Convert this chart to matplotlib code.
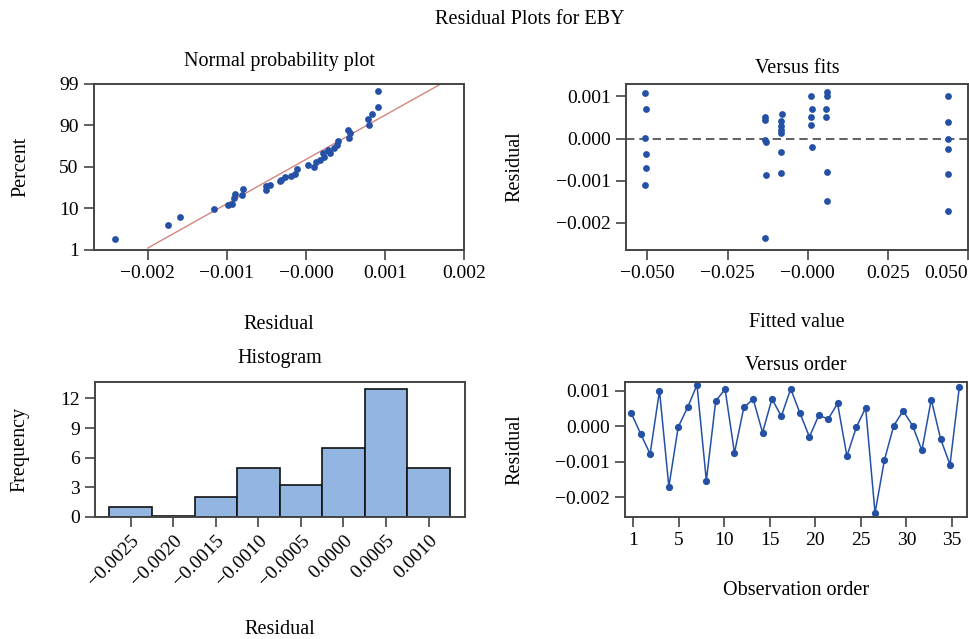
import numpy as np
import matplotlib
matplotlib.use("Agg")
import matplotlib.pyplot as plt

plt.rcParams["font.family"] = ["Liberation Serif", "DejaVu Serif"]
plt.rcParams["font.size"] = 14.5
plt.rcParams["axes.titlesize"] = 14.5

BLUE = "#2451a6"
SPINE = "#444444"

# normal probability plot: residual vs percent
npp_resid = [-0.00242, -0.00175, -0.00159, -0.00116, -0.00098, -0.00093, -0.00091,
             -0.00090, -0.00081, -0.00079, -0.00051, -0.00050, -0.00045, -0.00033,
             -0.00032, -0.00027, -0.00019, -0.00014, -0.00011, 0.00002, 0.00010,
             0.00013, 0.00018, 0.00021, 0.00023, 0.00028, 0.00031, 0.00035, 0.00039,
             0.00041, 0.00053, 0.00054, 0.00056, 0.00079, 0.00080, 0.00083, 0.00091,
             0.00091]
npp_pct = [3.4, 6.4, 8.1, 9.8, 12.8, 14.4, 19.6, 23.6, 23.2, 28.4, 28.0, 31.2, 32.8,
           36.0, 37.6, 40.0, 41.2, 43.2, 47.6, 52.0, 49.6, 54.8, 56.8, 63.2, 59.2,
           66.4, 63.2, 68.0, 71.2, 74.4, 85.2, 77.6, 82.4, 91.4, 90.1, 92.5, 94.0,
           97.4]
fit_line_x = [-0.00200, 0.00171]
fit_line_pct = [1.4, 99.0]
pct_ticks = [1, 10, 50, 90, 99]
npp_xticks = [-0.002, -0.001, 0.0, 0.001, 0.002]
npp_xlabels = ["\u22120.002", "\u22120.001", "\u22120.000", "0.001", "0.002"]

# versus fits
fitted = [-0.0507, -0.0503, -0.0507, -0.0505, -0.0505, -0.0507,
          -0.0133, -0.0132, -0.0133, -0.0131, -0.0131, -0.0134,
          -0.0080, -0.0082, -0.0084, -0.0084, -0.0083, -0.0082, -0.0084,
          0.0010, 0.0013, 0.0010, 0.0010, 0.0013,
          0.0059, 0.0059, 0.0058, 0.0056, 0.0061, 0.0059,
          0.0436, 0.0438, 0.0436, 0.0436, 0.0436, 0.0438]
fit_resid = [0.00108, 0.00070, 0.00002, -0.00036, -0.00071, -0.00111,
             0.00051, 0.00043, -0.00003, -0.00009, -0.00086, -0.00237,
             0.00059, 0.00042, 0.00030, 0.00021, 0.00014, -0.00033, -0.00081,
             0.00102, 0.00070, 0.00051, 0.00031, -0.00021,
             0.00110, 0.00102, 0.00069, 0.00050, -0.00080, -0.00147,
             0.00100, 0.00039, 0.00000, -0.00024, -0.00083, -0.00171]
fit_xticks = [-0.050, -0.025, 0.0, 0.025, 0.050]
fit_xlabels = ["\u22120.050", "\u22120.025", "\u22120.000", "0.025", "0.050"]
resid_yticks = [0.001, 0.0, -0.001, -0.002]
resid_ylabels = ["0.001", "0.000", "\u22120.001", "\u22120.002"]

# histogram
bin_centers = [-0.0025, -0.0020, -0.0015, -0.0010, -0.0005, 0.0000, 0.0005, 0.0010]
bin_counts = [1.0, 0.1, 2.0, 5.0, 3.2, 7.0, 13.0, 5.0]
hist_xlabels = ["\u22120.0025", "\u22120.0020", "\u22120.0015", "\u22120.0010",
                "\u22120.0005", "0.0000", "0.0005", "0.0010"]
freq_ticks = [0, 3, 6, 9, 12]

# versus order
order_resid = [0.00036, -0.00022, -0.00078, 0.00100, -0.00170, -0.00002, 0.00053,
               0.00116, -0.00153, 0.00071, 0.00104, -0.00075, 0.00053, 0.00076,
               -0.00018, 0.00077, 0.00028, 0.00105, 0.00036, -0.00030, 0.00031,
               0.00020, 0.00064, -0.00084, -0.00003, 0.00052, -0.00244, -0.00095,
               0.00002, 0.00043, 0.00002, -0.00068, 0.00075, -0.00036, -0.00108,
               0.00111]
order_ticklabels = ["1", "5", "10", "15", "20", "25", "30", "35"]


def style(ax):
    for s in ax.spines.values():
        s.set_color(SPINE)
        s.set_linewidth(1.4)
    ax.tick_params(direction="out", length=7, width=1.2, color=SPINE,
                   labelsize=14, pad=4)


fig = plt.figure(figsize=(9.69, 6.39), dpi=100)
fig.text(0.547, 0.970, "Residual Plots for EBY", ha="center", va="center")

# --- normal probability plot
ax1 = fig.add_axes([0.097, 0.609, 0.382, 0.260])
pk = np.array(pct_ticks, dtype=float)
pos = np.arange(len(pct_ticks), dtype=float)
ax1.set_yscale("function", functions=(lambda p: np.interp(p, pk, pos),
                                      lambda u: np.interp(u, pos, pk)))
ax1.plot(fit_line_x, fit_line_pct, color="#d4857e", lw=1.0)
ax1.scatter(npp_resid, npp_pct, s=24, color=BLUE, zorder=3, linewidths=0)
ax1.set_ylim(1, 99)
ax1.set_yticks(pct_ticks)
ax1.set_yticklabels([str(t) for t in pct_ticks])
ax1.minorticks_off()
ax1.set_xlim(-0.00268, 0.002)
ax1.set_xticks(npp_xticks)
ax1.set_xticklabels(npp_xlabels)
ax1.set_title("Normal probability plot", pad=13)
ax1.set_xlabel("Residual")
ax1.set_ylabel("Percent")
ax1.xaxis.set_label_coords(0.5, -0.39)
ax1.yaxis.set_label_coords(-0.171, 0.5)
style(ax1)

# --- versus fits
ax2 = fig.add_axes([0.646, 0.609, 0.353, 0.260])
ax2.scatter(fitted, fit_resid, s=24, color=BLUE, zorder=3, linewidths=0)
ax2.axhline(0, color="#444444", lw=1.2, ls=(0, (5, 3)))
ax2.set_xlim(-0.0567, 0.0499)
ax2.set_ylim(-0.00264, 0.0013)
ax2.set_xticks(fit_xticks)
ax2.set_xticklabels(fit_xlabels)
ax2.get_xticklabels()[-1].set_horizontalalignment("right")
ax2.set_yticks(resid_yticks)
ax2.set_yticklabels(resid_ylabels)
ax2.set_title("Versus fits", pad=8)
ax2.set_xlabel("Fitted value")
ax2.set_ylabel("Residual")
ax2.xaxis.set_label_coords(0.5, -0.38)
ax2.yaxis.set_label_coords(-0.296, 0.5)
style(ax2)

# --- histogram
ax3 = fig.add_axes([0.098, 0.191, 0.382, 0.211])
ax3.bar(bin_centers, bin_counts, width=0.0005, color="#93b5e2",
        edgecolor="#111111", linewidth=1.2)
ax3.set_xlim(-0.00292, 0.00143)
ax3.set_ylim(0, 13.65)
ax3.set_xticks(bin_centers)
ax3.set_xticklabels(hist_xlabels, rotation=45, ha="right", rotation_mode="anchor")
ax3.set_yticks(freq_ticks)
ax3.set_title("Histogram", pad=14)
ax3.set_xlabel("Residual")
ax3.set_ylabel("Frequency")
ax3.xaxis.set_label_coords(0.5, -0.765)
ax3.yaxis.set_label_coords(-0.178, 0.5)
style(ax3)

# --- versus order
ax4 = fig.add_axes([0.645, 0.191, 0.353, 0.211])
obs = np.arange(1, len(order_resid) + 1)
ax4.plot(obs, order_resid, color=BLUE, lw=1.1, marker="o", ms=5.2, mew=0)
ax4.set_xlim(0.32, 36.82)
ax4.set_ylim(-0.00255, 0.00124)
ax4.set_xticks(np.linspace(1.17, 35.2, len(order_ticklabels)))
ax4.set_xticklabels(order_ticklabels)
ax4.set_yticks(resid_yticks)
ax4.set_yticklabels(resid_ylabels)
ax4.set_title("Versus order", pad=9)
ax4.set_xlabel("Observation order")
ax4.set_ylabel("Residual")
ax4.xaxis.set_label_coords(0.5, -0.475)
ax4.yaxis.set_label_coords(-0.293, 0.5)
style(ax4)

fig.savefig("out.png", dpi=100)
